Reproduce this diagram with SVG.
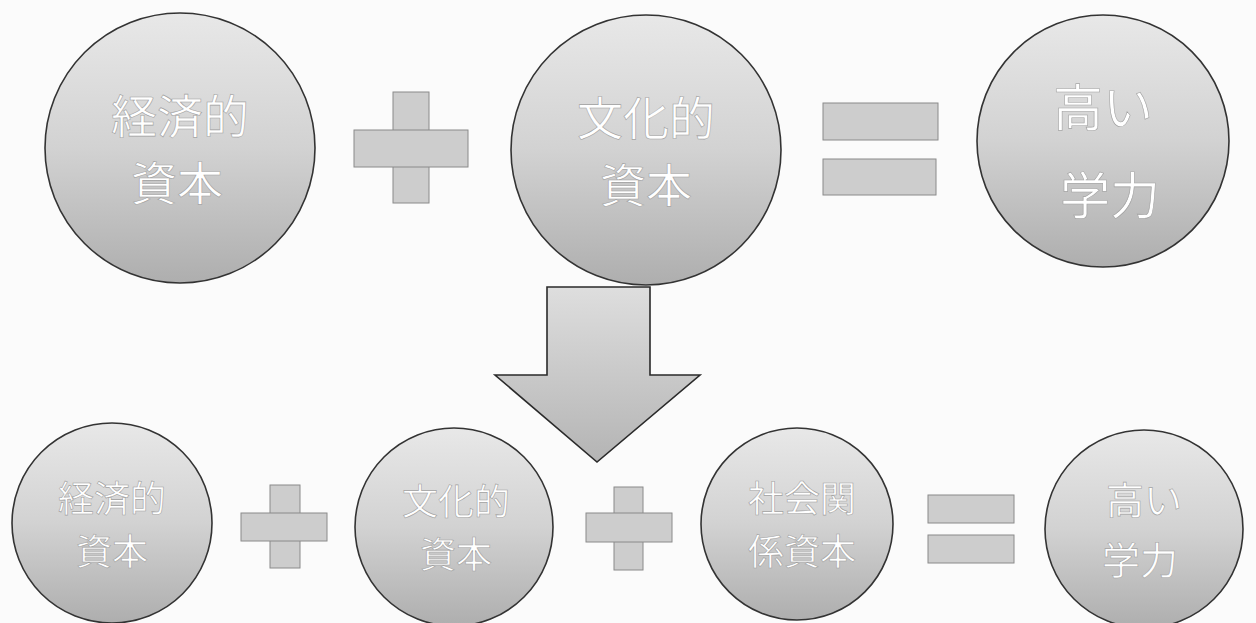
<svg xmlns="http://www.w3.org/2000/svg" width="1256" height="623" viewBox="0 0 1256 623">
<defs>
<linearGradient id="ballGrad" x1="0" y1="0" x2="0" y2="1">
<stop offset="0" stop-color="#e8e8e8"/>
<stop offset="0.5" stop-color="#d2d2d2"/>
<stop offset="1" stop-color="#aeaeae"/>
</linearGradient>
<linearGradient id="arrowGrad" x1="0" y1="0" x2="0" y2="1">
<stop offset="0" stop-color="#dedede"/>
<stop offset="1" stop-color="#b4b4b4"/>
</linearGradient>
<style>
.ball{fill:url(#ballGrad);stroke:#333;stroke-width:1.6}
.op{fill:#cdcdcd;stroke:#8a8a8a;stroke-width:1}
.arrow{fill:url(#arrowGrad);stroke:#2a2a2a;stroke-width:1.6}
.lbl{font-family:"Noto Sans CJK JP","Noto Sans CJK SC",sans-serif;fill:#ffffff;stroke:#a0a0a0;stroke-width:0.6;text-anchor:middle}
.big{font-size:46px}
.big2{font-size:50px}
.small{font-size:36px}
.small2{font-size:38px}
</style>
</defs>
<rect width="1256" height="623" fill="#fbfbfb"/>
<g id="node-econ1">
<circle class="ball" cx="180" cy="148" r="135"/>
<text class="lbl big"><tspan x="180" y="132.5">経済的</tspan><tspan x="177" y="199.5">資本</tspan></text>
</g>
<g id="plus1">
<rect class="op" x="393" y="92" width="36" height="111"/>
<rect class="op" x="354" y="130" width="114" height="37"/>
</g>
<g id="node-cult1">
<circle class="ball" cx="646" cy="150" r="135"/>
<text class="lbl big"><tspan x="646" y="134.5">文化的</tspan><tspan x="646" y="201.5">資本</tspan></text>
</g>
<g id="equals1">
<rect class="op" x="823" y="103" width="115" height="37"/>
<rect class="op" x="823" y="159" width="113" height="36"/>
</g>
<g id="node-high1">
<circle class="ball" cx="1103" cy="141" r="126"/>
<text class="lbl big2"><tspan x="1103" y="126">高い</tspan><tspan x="1110" y="214">学力</tspan></text>
</g>
<g id="connectors">
<path class="arrow" d="M547,287 L650,287 L650,375 L700,375 L597,462 L495,375 L547,375 Z"/>
</g>
<g id="node-econ2">
<circle class="ball" cx="112" cy="523" r="100"/>
<text class="lbl small"><tspan x="112" y="511.7">経済的</tspan><tspan x="112" y="564.7">資本</tspan></text>
</g>
<g id="plus2">
<rect class="op" x="270" y="485" width="30" height="83"/>
<rect class="op" x="241" y="513" width="86" height="28"/>
</g>
<g id="node-cult2">
<circle class="ball" cx="454" cy="527" r="99"/>
<text class="lbl small"><tspan x="456" y="514.7">文化的</tspan><tspan x="456" y="567.7">資本</tspan></text>
</g>
<g id="plus3">
<rect class="op" x="614" y="487" width="29" height="83"/>
<rect class="op" x="586" y="513" width="86" height="29"/>
</g>
<g id="node-social">
<circle class="ball" cx="797" cy="524" r="96"/>
<text class="lbl small"><tspan x="802" y="511.7">社会関</tspan><tspan x="802" y="564.7">係資本</tspan></text>
</g>
<g id="equals2">
<rect class="op" x="928" y="495" width="86" height="28"/>
<rect class="op" x="928" y="535" width="86" height="28"/>
</g>
<g id="node-high2">
<circle class="ball" cx="1144" cy="529" r="99"/>
<text class="lbl small2"><tspan x="1144" y="514.4">高い</tspan><tspan x="1140" y="574.4">学力</tspan></text>
</g>
</svg>
